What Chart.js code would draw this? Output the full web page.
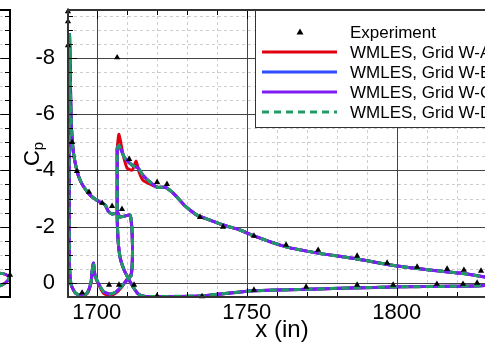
<!DOCTYPE html>
<html>
<head>
<meta charset="utf-8">
<script src="https://cdn.jsdelivr.net/npm/chart.js@4.4.1/dist/chart.umd.min.js"></script>
<style>
  html, body { margin: 0; padding: 0; background: #fff; }
  #wrap { position: relative; width: 485px; height: 347px; overflow: hidden; background: #fff; }
  #mainBox { position: absolute; left: 0; top: 0; width: 500px; height: 347px; }
  #leftBox { position: absolute; left: -106px; top: 0; width: 120px; height: 347px; }
</style>
</head>
<body>
<div id="wrap">
  <div id="mainBox"><canvas id="cpChart"></canvas></div>
  <div id="leftBox"><canvas id="leftChart"></canvas></div>
</div>
<script>
// ---- data (x in inches, Cp) ----

// forward element: upper surface LE->TE, trailing edge, lower surface back to LE
var elem1X = [1690.9, 1691.1, 1691.3, 1691.6, 1692.1, 1692.8, 1693.8, 1695.1, 1696.4, 1697.8, 1699.4, 1701.1, 1702.8, 1703.8, 1705.1, 1707.1, 1707.6, 1709.4, 1711.1, 1711.6, 1711.9, 1711.8, 1711.4, 1710.1, 1708.4, 1706.4, 1704.4, 1702.4, 1700.8, 1699.4, 1698.9, 1698.4, 1698.1, 1696.8, 1694.8, 1692.8, 1691.4, 1690.9, 1690.8, 1690.8, 1690.9];
var elem1Cp = [-8.87, -7.91, -6.49, -5.43, -4.72, -4.26, -3.83, -3.51, -3.30, -3.12, -2.98, -2.87, -2.77, -2.55, -2.45, -2.48, -2.34, -2.38, -2.41, -2.06, -1.35, -0.64, -0.25, -0.11, 0.11, 0.32, 0.39, 0.32, 0.07, -0.28, -0.71, -0.39, -0.04, 0.35, 0.46, 0.35, 0.04, -0.64, -2.94, -5.78, -8.87];
var elem1CpA = [-8.87, -7.91, -6.49, -5.43, -4.72, -4.26, -3.83, -3.51, -3.30, -3.12, -2.98, -2.87, -2.77, -2.55, -2.45, -2.48, -2.34, -2.38, -2.41, -2.06, -1.35, -0.70, -0.32, -0.14, 0.14, 0.36, 0.45, 0.38, 0.10, -0.26, -0.68, -0.37, 0.00, 0.38, 0.47, 0.36, 0.05, -0.64, -2.94, -5.78, -8.87];

// flap: upper surface LE->TE, lower surface TE->LE
var flapX = [1706.8, 1707.4, 1708.4, 1709.4, 1711.8, 1713.8, 1715.4, 1717.8, 1720.1, 1722.8, 1725.1, 1727.1, 1729.1, 1731.1, 1733.4, 1737.8, 1742.1, 1747.8, 1752.4, 1763.1, 1773.8, 1786.8, 1800.1, 1811.1, 1821.1, 1829.4, 1836.1, 1836.1, 1829.4, 1817.8, 1801.1, 1784.4, 1767.8, 1752.4, 1747.8, 1734.4, 1721.1, 1716.1, 1713.8, 1712.1, 1710.4, 1709.1, 1707.8, 1707.1, 1706.8, 1706.8, 1706.8];
var flapCp = [-4.79, -4.89, -4.65, -4.43, -4.18, -4.08, -3.83, -3.58, -3.40, -3.40, -3.23, -3.01, -2.77, -2.59, -2.41, -2.23, -2.06, -1.88, -1.67, -1.28, -1.06, -0.85, -0.60, -0.46, -0.35, -0.21, -0.11, 0.00, 0.09, 0.12, 0.14, 0.18, 0.23, 0.28, 0.32, 0.46, 0.48, 0.48, 0.39, 0.14, -0.18, -0.46, -0.89, -1.52, -2.41, -3.65, -4.79];
// Grid W-A differs near the flap suction peak
var flapXA = [1706.8, 1707.4, 1708.8, 1710.1, 1711.8, 1713.1, 1714.1, 1715.4, 1717.8, 1720.1, 1722.8, 1725.1, 1727.1, 1729.1, 1731.1, 1733.4, 1737.8, 1742.1, 1747.8, 1752.4, 1763.1, 1773.8, 1786.8, 1800.1, 1811.1, 1821.1, 1829.4, 1836.1, 1836.1, 1829.4, 1817.8, 1801.1, 1784.4, 1767.8, 1752.4, 1747.8, 1734.4, 1721.1, 1716.1, 1713.8, 1712.1, 1710.4, 1709.1, 1707.8, 1707.1, 1706.8, 1706.8, 1706.8];
var flapCpA = [-4.79, -5.28, -4.54, -4.08, -4.01, -4.33, -3.94, -3.65, -3.51, -3.40, -3.40, -3.23, -3.01, -2.77, -2.59, -2.41, -2.23, -2.06, -1.88, -1.67, -1.28, -1.06, -0.85, -0.60, -0.46, -0.35, -0.21, -0.11, 0.00, 0.09, 0.12, 0.14, 0.18, 0.23, 0.28, 0.32, 0.46, 0.48, 0.48, 0.39, 0.14, -0.18, -0.46, -0.89, -1.52, -2.41, -3.65, -4.79];

// experiment
var expX = [1690.4, 1690.4, 1690.4, 1691.8, 1693.4, 1697.4, 1701.8, 1705.1, 1708.4, 1695.1, 1704.1, 1707.4, 1712.4, 1706.8, 1710.8, 1720.1, 1723.4, 1734.4, 1742.1, 1752.4, 1763.1, 1773.8, 1786.8, 1796.8, 1806.8, 1816.8, 1822.4, 1828.1, 1720.1, 1735.1, 1752.4, 1769.8, 1786.8, 1798.8, 1813.4, 1822.1, 1826.8];
var expCp = [-9.65, -9.29, -8.44, -5.00, -3.97, -3.23, -2.84, -2.73, -2.62, 0.35, 0.07, 0.07, 0.07, -8.01, -4.40, -3.58, -3.51, -2.34, -1.99, -1.67, -1.35, -1.17, -0.96, -0.71, -0.57, -0.50, -0.46, -0.43, 0.46, 0.48, 0.25, 0.14, 0.07, 0.07, 0.04, 0.04, 0.00];

// neighbouring panel on the left (only its trailing edge shows)
var leftUpperX = [1685.6, 1687.5, 1689.0, 1690.0];
var leftUpperCp = [-0.35, -0.33, -0.27, -0.18];
var leftLowerX = [1685.6, 1687.0, 1688.6, 1690.0];
var leftLowerCp = [0.12, 0.08, -0.02, -0.18];
var leftExpX = [1690.0];
var leftExpCp = [-0.28];

var xTicksMajor = [1700, 1750, 1800];
var yTicksMajor = [-8, -6, -4, -2, 0];

var seriesNames = ['Experiment', 'WMLES, Grid W-A', 'WMLES, Grid W-B', 'WMLES, Grid W-C', 'WMLES, Grid W-D'];

Chart.defaults.font.family = "'Liberation Sans', Arial, Helvetica, sans-serif";
Chart.defaults.color = '#000';

function pts(xs, ys) {
    return xs.map(function (x, i) { return { x: x, y: ys[i] }; });
}
// join curve pieces with a gap
function pieces() {
    var out = [];
    for (var i = 0; i < arguments.length; i++) {
        if (i > 0) out.push({ x: null, y: null });
        out = out.concat(arguments[i]);
    }
    return out;
}

var styleA = { borderColor: '#e0000f', borderWidth: 3 };
var styleB = { borderColor: '#2f4cff', borderWidth: 3 };
var styleC = { borderColor: '#7f1cf6', borderWidth: 3 };
var styleD = { borderColor: '#1f9c63', borderWidth: 3, borderDash: [7, 5] };

function lineSet(label, data, st) {
    return {
        label: label, data: data, showLine: true, pointRadius: 0, tension: 0.2,
        borderColor: st.borderColor, borderWidth: st.borderWidth, borderDash: st.borderDash || [],
        backgroundColor: st.borderColor, fill: false
    };
}
function expSet(label, data) {
    return {
        label: label, data: data, showLine: false, pointStyle: 'triangle', pointRadius: 3.6,
        backgroundColor: '#000', borderColor: '#000', borderWidth: 0, clip: false
    };
}

//-------------
//- FRAME: grid, inward ticks, box -
//-------------
function gridValues(min, max, step) {
    var v = [], start = Math.ceil(min / step) * step;
    for (var t = start; t <= max + 1e-9; t += step) v.push(Math.round(t * 1000) / 1000);
    return v;
}
var framePlugin = {
    id: 'frame',
    beforeDatasetsDraw: function (chart, args, o) {
        var ctx = chart.ctx, a = chart.chartArea, xs = chart.scales.x, ys = chart.scales.y;
        ctx.save();
        ctx.lineWidth = 1;
        ctx.setLineDash([3, 3]);
        ctx.strokeStyle = '#cdcdcd';
        ctx.beginPath();
        if (o.xStep) gridValues(xs.min, xs.max, o.xStep).forEach(function (v) {
            var p = Math.round(xs.getPixelForValue(v)) + 0.5;
            ctx.moveTo(p, a.top); ctx.lineTo(p, a.bottom);
        });
        gridValues(ys.min, ys.max, o.yStep).forEach(function (v) {
            var p = Math.round(ys.getPixelForValue(v)) + 0.5;
            ctx.moveTo(a.left, p); ctx.lineTo(a.right, p);
        });
        ctx.stroke();
        ctx.setLineDash([]);
        ctx.strokeStyle = '#444';
        ctx.beginPath();
        o.xMajor.forEach(function (v) {
            var p = Math.round(xs.getPixelForValue(v)) + 0.5;
            ctx.moveTo(p, a.top); ctx.lineTo(p, a.bottom);
        });
        o.yMajor.forEach(function (v) {
            var p = Math.round(ys.getPixelForValue(v)) + 0.5;
            ctx.moveTo(a.left, p); ctx.lineTo(a.right, p);
        });
        ctx.stroke();
        ctx.restore();
    },
    afterDatasetsDraw: function (chart, args, o) {
        var ctx = chart.ctx, a = chart.chartArea, xs = chart.scales.x, ys = chart.scales.y;
        ctx.save();
        ctx.strokeStyle = '#000';
        ctx.lineWidth = 1;
        ctx.beginPath();
        if (o.xStep) gridValues(xs.min, xs.max, o.xStep).forEach(function (v) {
            var p = Math.round(xs.getPixelForValue(v)) + 0.5;
            var len = o.xMajor.indexOf(v) >= 0 ? 9 : 5;
            ctx.moveTo(p, a.top); ctx.lineTo(p, a.top + len);
            ctx.moveTo(p, a.bottom); ctx.lineTo(p, a.bottom - len);
        });
        gridValues(ys.min, ys.max, o.yStep).forEach(function (v) {
            var p = Math.round(ys.getPixelForValue(v)) + 0.5;
            var len = o.yMajor.indexOf(v) >= 0 ? 9 : 5;
            ctx.moveTo(a.left, p); ctx.lineTo(a.left + len, p);
            ctx.moveTo(a.right, p); ctx.lineTo(a.right - len, p);
        });
        ctx.stroke();
        ctx.lineWidth = 2;
        ctx.strokeRect(a.left, a.top, a.right - a.left, a.bottom - a.top);
        ctx.restore();
    }
};

//-------------
//- LEGEND box inside the plot (top right) -
//-------------
var boxLegend = {
    id: 'boxLegend',
    afterDraw: function (chart) {
        var ctx = chart.ctx, a = chart.chartArea;
        var left = 255.5, top = a.top, right = a.right, bottom = 127.5;
        ctx.save();
        ctx.fillStyle = '#fff';
        ctx.fillRect(left, top, right - left, bottom - top);
        ctx.strokeStyle = '#333';
        ctx.lineWidth = 1;
        ctx.strokeRect(left, top, right - left, bottom - top);
        ctx.lineWidth = 2;
        ctx.strokeRect(a.left, a.top, a.right - a.left, a.bottom - a.top);

        var styles = [null, styleA, styleB, styleC, styleD];
        ctx.font = '17px ' + Chart.defaults.font.family;
        ctx.textBaseline = 'middle';
        ctx.textAlign = 'left';
        for (var i = 0; i < seriesNames.length; i++) {
            var y = 32 + i * 20;
            if (i === 0) {
                ctx.fillStyle = '#000';
                ctx.beginPath();
                ctx.moveTo(300, y - 3.5); ctx.lineTo(303.5, y + 2.5); ctx.lineTo(296.5, y + 2.5);
                ctx.closePath(); ctx.fill();
            } else {
                var st = styles[i];
                ctx.strokeStyle = st.borderColor;
                ctx.lineWidth = 3;
                ctx.setLineDash(st.borderDash || []);
                ctx.beginPath(); ctx.moveTo(262, y); ctx.lineTo(337, y); ctx.stroke();
                ctx.setLineDash([]);
            }
            ctx.fillStyle = '#000';
            ctx.fillText(seriesNames[i], 350, y + 1);
        }
        ctx.restore();
    }
};

// Cp axis title with subscript
var cpTitle = {
    id: 'cpTitle',
    afterDraw: function (chart) {
        var ctx = chart.ctx, fam = Chart.defaults.font.family;
        ctx.save();
        ctx.translate(31, 154);
        ctx.rotate(-Math.PI / 2);
        ctx.fillStyle = '#000';
        ctx.textBaseline = 'alphabetic';
        ctx.font = '22px ' + fam;
        var wC = ctx.measureText('C').width;
        ctx.font = '15px ' + fam;
        var wp = ctx.measureText('p').width;
        var x0 = -(wC + wp) / 2;
        ctx.font = '22px ' + fam;
        ctx.fillText('C', x0, 8);
        ctx.font = '15px ' + fam;
        ctx.fillText('p', x0 + wC, 12);
        ctx.restore();
    }
};

//-------------
//- MAIN CHART -
//-------------
var dsA = pieces(pts(elem1X, elem1CpA), pts(flapXA, flapCpA));
var dsB = pieces(pts(elem1X, elem1Cp), pts(flapX, flapCp));
var dsC = pieces(pts(elem1X, elem1Cp), pts(flapX, flapCp));
var dsD = pieces(pts(elem1X, elem1Cp), pts(flapX, flapCp));

new Chart(document.getElementById('cpChart'), {
    type: 'scatter',
    data: {
        // first dataset is drawn on top
        datasets: [
            expSet(seriesNames[0], pts(expX, expCp)),
            lineSet(seriesNames[4], dsD, styleD),
            lineSet(seriesNames[3], dsC, styleC),
            lineSet(seriesNames[2], dsB, styleB),
            lineSet(seriesNames[1], dsA, styleA)
        ]
    },
    options: {
        responsive: true,
        maintainAspectRatio: false,
        animation: false,
        layout: { padding: { top: 10, right: 4, bottom: 0, left: 0 } },
        plugins: {
            legend: { display: false },
            tooltip: { enabled: false },
            frame: { xStep: 10, yStep: 0.5, xMajor: xTicksMajor, yMajor: yTicksMajor }
        },
        scales: {
            x: {
                type: 'linear', min: 1690.4, max: 1833.1,
                grid: { display: false }, border: { display: false },
                ticks: {
                    stepSize: 50, includeBounds: false, autoSkip: false, maxRotation: 0,
                    padding: -5, color: '#000', font: { size: 22 },
                    callback: function (v) { return v; }
                },
                title: { display: true, text: 'x (in)', color: '#000', font: { size: 24 }, padding: { top: 0, bottom: 2 } },
                afterFit: function (s) { s.height = 50; }
            },
            y: {
                type: 'linear', reverse: true, min: -9.7, max: 0.5,
                grid: { display: false }, border: { display: false },
                ticks: {
                    stepSize: 2, includeBounds: false, autoSkip: false,
                    padding: 5, color: '#000', font: { size: 22, lineHeight: 0.3 },
                    callback: function (v) { return v; }
                },
                afterFit: function (s) { s.width = 68; }
            }
        }
    },
    plugins: [framePlugin, boxLegend, cpTitle]
});

//-------------
//- LEFT NEIGHBOUR PANEL (cut off) -
//-------------
var leftLines = pieces(pts(leftUpperX, leftUpperCp), pts(leftLowerX, leftLowerCp));
new Chart(document.getElementById('leftChart'), {
    type: 'scatter',
    data: {
        datasets: [
            expSet(seriesNames[0], pts(leftExpX, leftExpCp)),
            lineSet(seriesNames[4], leftLines, styleD),
            lineSet(seriesNames[3], leftLines, styleC),
            lineSet(seriesNames[1], leftLines, styleA)
        ]
    },
    options: {
        responsive: true,
        maintainAspectRatio: false,
        animation: false,
        layout: { padding: { top: 10, right: 1, bottom: 50, left: 0 } },
        plugins: {
            legend: { display: false },
            tooltip: { enabled: false },
            frame: { xStep: 0, yStep: 0.5, xMajor: [], yMajor: yTicksMajor }
        },
        scales: {
            x: { type: 'linear', min: 1650, max: 1690, display: false },
            y: { type: 'linear', reverse: true, min: -9.7, max: 0.5, display: false }
        }
    },
    plugins: [framePlugin]
});
</script>
</body>
</html>
